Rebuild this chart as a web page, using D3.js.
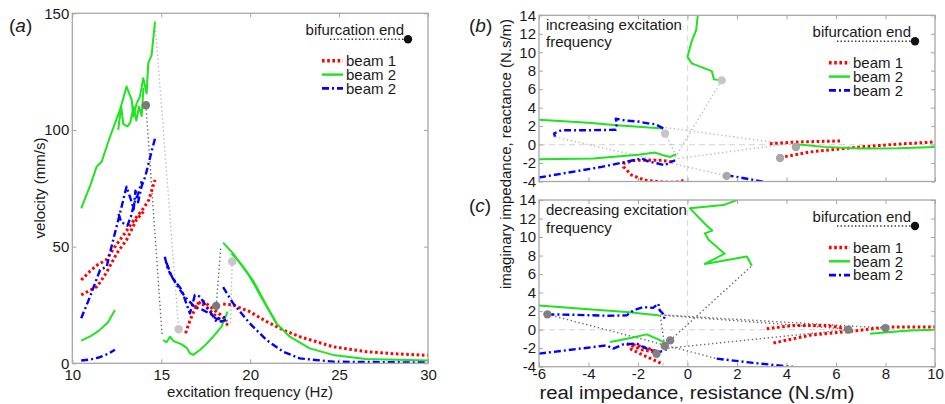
<!DOCTYPE html>
<html>
<head>
<meta charset="utf-8">
<script src="https://cdnjs.cloudflare.com/ajax/libs/d3/7.8.5/d3.min.js"></script>
<style>
body { margin: 0; background: #fff; }
svg text { font-family: "Liberation Sans", Arial, sans-serif; fill: #1a1a1a; }
</style>
</head>
<body>
<svg id="fig" width="945" height="404"></svg>
<script>
// ---- tick labels ----
const freqTicks = [10, 15, 20, 25, 30];
const velTicks = [0, 50, 100, 150];
const resTicks = [-6, -4, -2, 0, 2, 4, 6, 8, 10];
const reacTicks = [-4, -2, 0, 2, 4, 6, 8, 10, 12, 14];
const legendNames = ["beam 1", "beam 2", "beam 2"];

// ---- panel (a): [frequency Hz, velocity mm/s] ----
const aRedUp1 = [[10.5,35.7],[11.0,39.5],[11.4,42.1],[11.9,44.3],[12.4,50],[12.95,55.7],[13.4,60.7],[14.0,66.4],[14.3,70],[14.65,78.6]];
const aRedUp2 = [[10.5,29.3],[11.4,32.9],[11.9,38.6],[12.5,47.1],[13.05,52.9],[13.6,61.4],[14.0,65]];
const aRedMid1 = [[16.37,12.9],[16.55,17],[16.71,20],[16.9,23.5],[17.08,25.7],[17.4,25],[17.7,23],[18.1,20],[18.4,18],[18.76,16.4]];
const aRedMid2 = [[16.9,24],[17.3,27],[17.8,24],[18.3,21],[18.7,18]];
const aRedTail = [[18.48,25.4],[19.04,25],[19.98,22.1],[20.92,17.9],[21.85,14.3],[22.79,11.4],[24.66,7.1],[26.5,5],[28.3,4],[30,3.4]];

const aGreenUp1 = [[10.5,66.4],[11.0,76],[11.37,84.3],[11.65,86.4],[12.12,97.1],[12.68,108.6],[13.05,118.6],[13.34,112.9],[13.43,105.7],[13.62,111.4],[13.8,114.3],[13.99,122.2],[14.18,115.7],[14.27,128.6],[14.46,132.1],[14.65,146.4]];
const aGreenUp2 = [[12.58,100],[12.75,110],[12.87,102.5],[13.1,101.5],[13.25,103],[13.45,110],[13.6,104],[13.75,110],[13.9,106],[14.0,118]];
const aGreenLow = [[10.5,9.7],[11.0,11.5],[11.5,14],[12.0,17.5],[12.4,22.8]];
const aGreenMid = [[15.11,10],[15.3,9],[15.49,11.4],[15.7,9.5],[16.15,8.1],[16.45,6.5],[16.61,4.3],[16.8,3.6],[17.17,5.7],[17.5,8],[17.92,11.4],[18.39,15.7],[18.73,22.1]];
const aGreenTail1 = [[18.48,51.7],[19.04,47.1],[19.98,37.1],[20.92,24.3],[21.48,17.1],[22.23,11.4],[23.35,6.4],[24.66,3.6],[26.5,1.8],[30,1.2]];
const aGreenTail2 = [[18.95,47],[19.5,42.5],[20.2,35],[20.92,24.8],[21.5,17]];

const aBlueUp1 = [[10.5,19.3],[11.0,28.6],[11.56,40],[11.93,41.4],[12.3,52.9],[12.68,64.3],[13.05,75.7],[13.3,70],[13.45,66],[13.55,74],[13.7,69],[13.9,76],[14.1,80],[14.3,86],[14.65,96.4]];
const aBlueUp2 = [[12.6,64],[12.75,60.5],[13.1,59],[13.3,63],[13.5,69],[13.7,72.5],[13.9,78]];
const aBlueLow = [[10.5,1.2],[11.0,1.6],[11.5,2.5],[12.0,4],[12.4,5.8]];
const aBlueMid1 = [[15.2,45.7],[15.35,41],[15.49,38.6],[15.7,36],[15.87,34.3],[16.0,33],[16.15,31.4],[16.35,27],[16.61,21.4],[16.75,25],[16.89,29.3],[17.17,28.6],[17.4,26],[17.55,24.3],[17.8,21.5],[18.11,17.9],[18.4,18],[18.67,18.6]];
const aBlueMid2 = [[15.3,43],[15.6,37],[16.0,32],[16.4,28],[16.9,24],[17.3,23],[17.8,21],[18.1,19],[18.5,19.5],[18.75,20.5]];
const aBlueTail = [[18.48,32.6],[19.04,25.7],[19.98,17.1],[20.92,10],[21.85,5],[22.79,2.1],[24.66,0.7],[30,0.3]];

const aJumpsDark = [[[14.14,110.6],[15.05,12]], [[18.09,24.6],[18.35,50]]];
const aJumpsLight = [[[14.65,146],[15.98,14.6]], [[18.99,43.6],[18.9,17]]];
const aDotsDark = [[14.14,110.6],[18.09,24.6]];
const aDotsLight = [[15.98,14.6],[18.99,43.6]];

// ---- panel (b): [resistance, reactance], increasing frequency ----
const bGreen1 = [[0.45,14.8],[0.35,12.4],[0.17,11.2],[0.0,9.5],[0.17,8.8],[0.98,7.96],[1.07,7.06],[1.38,6.95]];
const bGreen2 = [[-6,2.7],[-4,2.35],[-2.86,2.09],[-0.98,1.73]];
const bGreen3 = [[-6,-1.6],[-3.8,-1.51],[-2,-1.1],[-1.31,-0.87],[-0.98,-1.16],[-0.7,-1.34],[-0.46,-1.05]];
const bGreen4 = [[4.41,0.03],[5.5,-0.25],[6.97,-0.43],[8.5,-0.4],[10,-0.26]];
const bBlue1 = [[-0.98,1.75],[-1.3,2.2],[-1.6,2.3],[-2.0,2.5],[-2.5,2.6],[-2.9,2.8],[-2.85,2.3],[-2.9,1.6],[-4.0,1.55],[-5.1,1.55],[-5.39,1.19],[-5.35,0.85]];
const bBlue2 = [[-6,-3.57],[-3.47,-2.42],[-1.85,-1.51],[-1.57,-1.84],[-1.2,-2.05],[-0.91,-2.24],[-0.7,-1.9],[-0.5,-1.7]];
const bBlue3 = [[1.58,-3.32],[2.5,-3.75],[3.6,-4.3]];
const bRed1 = [[-0.64,-1.88],[-1.04,-1.7],[-2.12,-1.7],[-2.59,-2.05],[-2.59,-2.4],[-2.25,-3.32],[-1.72,-3.86],[-1.0,-4.05],[-0.5,-4.1],[-0.1,-3.86]];
const bRed2 = [[3.33,0.1],[4.41,0.28],[5.5,0.35],[6.23,0.39]];
const bRed3 = [[3.74,-1.41],[4.95,-0.8],[6.97,-0.26],[8.5,0.05],[10,0.28]];
const bJumps = [[[-1.04,1.9],[4.4,-0.1]], [[-0.37,-1.51],[4.0,0.05]], [[-5.35,0.82],[1.58,-3.39]], [[-0.91,1.25],[-0.5,-0.97]], [[-0.5,-1.4],[1.38,6.95]]];
const bDotsLight = [[-0.91,1.19],[1.38,6.95]];
const bDotsMid = [[4.38,-0.26],[1.58,-3.39],[3.74,-1.45]];

// ---- panel (c): [resistance, reactance], decreasing frequency ----
const cGreen1 = [[2.1,14.4],[2.0,14.0],[1.45,13.45],[0.1,13.1],[0.75,11.3],[1.0,10.7],[0.7,10.4],[0.85,9.7],[1.5,8.2],[0.7,7.1],[2.4,7.9],[2.6,6.9]];
const cGreen2 = [[-6,2.62],[-4,2.2],[-2.46,1.9],[-1.12,1.54]];
const cGreen3 = [[-3.13,-1.34],[-2.3,-0.9],[-1.65,-0.51],[-1.25,-0.97],[-0.84,-1.51]];
const cGreen4 = [[7.37,-0.43],[8.2,-0.25],[9,-0.1],[10,0]];
const cBlue1 = [[-5.66,1.65],[-4.5,1.6],[-3.2,1.5],[-2.46,1.54],[-2.19,2.08],[-1.79,2.44],[-1.39,2.35],[-1.18,2.81],[-1.12,2.08],[-0.92,1.54],[-0.95,1.18]];
const cBlue2 = [[-6,-2.59],[-4.5,-2.1],[-3.27,-1.7],[-3.0,-2.05],[-2.6,-1.6],[-2.05,-1.51],[-1.65,-2.05],[-1.12,-2.41],[-0.78,-2.05]];
const cBlue3 = [[1.18,-3.13],[2.7,-3.6],[4.28,-4.03]];
const cRed1 = [[-2.46,-1.51],[-2.1,-1.9],[-1.8,-2.2],[-1.38,-2.41],[-1.2,-2.6]];
const cRed2 = [[-2.32,-2.05],[-1.92,-2.59],[-1.5,-3.1],[-0.98,-3.75]];
const cRed3 = [[-2.2,-1.6],[-1.9,-1.8],[-1.6,-2.0],[-1.3,-2.3]];
const cRed4 = [[3.2,0.1],[4.28,0.46],[5.62,0.46],[6.5,0.1]];
const cRed5 = [[3.47,-1.44],[4.93,-0.61],[6.95,-0.07],[8.05,0.29],[10,0.29]];
const cJumps = [[[-5.66,1.65],[1.18,-3.13]], [[-0.7,-1.16],[2.6,6.9]], [[-0.9,1.54],[6.5,0.05]], [[-1.1,1.6],[8.0,0.17]], [[-0.78,-2.0],[6.5,0.0]], [[-1.1,1.5],[-0.92,-1.77]]];
const cDots = [[-5.66,1.65],[-0.7,-1.16],[-0.92,-1.77],[-1.25,-2.6],[6.5,0.0],[8.0,0.17]];

// ---- styles ----
const RED = { stroke: "#ff0000", width: 3, dash: "2.6,2.6" };
const GREEN = { stroke: "#1ee41e", width: 2, dash: null };
const BLUE = { stroke: "#0000ff", width: 2.4, dash: "7,3,2,3" };
const DARKDOT = { stroke: "#6a6a6a", width: 1.4, dash: "1.4,2.6" };
const LIGHTDOT = { stroke: "#bdbdbd", width: 1.4, dash: "1.4,2.6" };
const BOX = "#a6a6a6";

const svg = d3.select("#fig");
let clipN = 0;

function makePanel(box, xDom, yDom, xTicks, yTicks, showX, zeroLines) {
    const x = d3.scaleLinear().domain(xDom).range([box.l, box.r]);
    const y = d3.scaleLinear().domain(yDom).range([box.b, box.t]);
    const id = "clip" + (clipN++);
    svg.append("clipPath").attr("id", id).append("rect")
        .attr("x", box.l).attr("y", box.t).attr("width", box.r - box.l).attr("height", box.b - box.t);

    if (zeroLines) {
        svg.append("line").attr("x1", x(0)).attr("x2", x(0)).attr("y1", box.t).attr("y2", box.b)
            .attr("stroke", "#dcdcdc").attr("stroke-width", 1.2).attr("stroke-dasharray", "6,4");
        svg.append("line").attr("x1", box.l).attr("x2", box.r).attr("y1", y(0)).attr("y2", y(0))
            .attr("stroke", "#dcdcdc").attr("stroke-width", 1.2).attr("stroke-dasharray", "6,4");
    }

    const g = svg.append("g").attr("clip-path", `url(#${id})`);

    // ticks inside on all four sides, matlab style
    const fs = "15px";
    const bottom = svg.append("g").attr("transform", `translate(0,${box.b})`)
        .call(d3.axisBottom(x).tickValues(xTicks).tickSize(-4).tickPadding(showX ? showX : 4)
            .tickFormat(showX ? d3.format("d") : ""));
    const top = svg.append("g").attr("transform", `translate(0,${box.t})`)
        .call(d3.axisTop(x).tickValues(xTicks).tickSize(-4).tickFormat(""));
    const left = svg.append("g").attr("transform", `translate(${box.l},0)`)
        .call(d3.axisLeft(y).tickValues(yTicks).tickSize(-4).tickPadding(3).tickFormat(d3.format("d")));
    const right = svg.append("g").attr("transform", `translate(${box.r},0)`)
        .call(d3.axisRight(y).tickValues(yTicks).tickSize(-4).tickFormat(""));
    [bottom, top, left, right].forEach(a => {
        a.select(".domain").remove();
        a.selectAll("line").attr("stroke", BOX);
        a.selectAll("text").style("font-size", fs).attr("fill", "#1a1a1a")
            .text(function() { return this.textContent.replace("−", "-"); });
    });
    svg.append("rect").attr("x", box.l).attr("y", box.t).attr("width", box.r - box.l).attr("height", box.b - box.t)
        .attr("fill", "none").attr("stroke", BOX).attr("stroke-width", 1.3);

    return { x, y, g, box };
}

function drawLine(p, data, st) {
    p.g.append("path").datum(data)
        .attr("d", d3.line().x(d => p.x(d[0])).y(d => p.y(d[1])))
        .attr("fill", "none").attr("stroke", st.stroke).attr("stroke-width", st.width)
        .attr("stroke-dasharray", st.dash).attr("stroke-linejoin", "round");
}

function drawDots(p, data, color) {
    p.g.selectAll(null).data(data).join("circle")
        .attr("cx", d => p.x(d[0])).attr("cy", d => p.y(d[1])).attr("r", 4.2)
        .attr("fill", color);
}

function legend(p) {
    const r = p.box.r, t = p.box.t;
    svg.append("text").attr("x", r - 24).attr("y", t + 22).attr("text-anchor", "end")
        .style("font-size", "15px").text("bifurcation end");
    svg.append("line").attr("x1", r - 98).attr("x2", r - 23).attr("y1", t + 26).attr("y2", t + 26)
        .attr("stroke", "#333").attr("stroke-width", 1.4).attr("stroke-dasharray", "1.4,2.2");
    svg.append("circle").attr("cx", r - 20).attr("cy", t + 26).attr("r", 4.2).attr("fill", "#111");
    const sts = [RED, GREEN, BLUE];
    legendNames.forEach((name, i) => {
        const yy = t + 47.5 + i * 13.8;
        svg.append("line").attr("x1", r - 106).attr("x2", r - 85).attr("y1", yy).attr("y2", yy)
            .attr("stroke", sts[i].stroke).attr("stroke-width", sts[i].width + 0.4).attr("stroke-dasharray", sts[i].dash);
        svg.append("text").attr("x", r - 82).attr("y", yy + 5.3).style("font-size", "15px").text(name);
    });
}

function panelTag(x, y, letter) {
    const t = svg.append("text").attr("x", x).attr("y", y).style("font-size", "19px");
    t.append("tspan").text("(");
    t.append("tspan").style("font-style", "italic").text(letter);
    t.append("tspan").text(")");
}

// ---------- panel (a) ----------
const pa = makePanel({ l: 72.3, r: 428, t: 13.3, b: 363.3 }, [10, 30], [0, 150], freqTicks, velTicks, 6, false);
aJumpsLight.forEach(d => drawLine(pa, d, LIGHTDOT));
aJumpsDark.forEach(d => drawLine(pa, d, DARKDOT));
[aRedUp1, aRedUp2, aRedMid1, aRedMid2, aRedTail].forEach(d => drawLine(pa, d, RED));
[aGreenUp1, aGreenUp2, aGreenLow, aGreenMid, aGreenTail1, aGreenTail2].forEach(d => drawLine(pa, d, GREEN));
[aBlueUp1, aBlueUp2, aBlueLow, aBlueMid1, aBlueMid2, aBlueTail].forEach(d => drawLine(pa, d, BLUE));
drawDots(pa, aDotsDark, "#7a7a7a");
drawDots(pa, aDotsLight, "#c6c6c6");
legend(pa);
panelTag(9, 32, "a");
svg.append("text").attr("x", 250).attr("y", 397).attr("text-anchor", "middle").style("font-size", "15px")
    .text("excitation frequency (Hz)");
svg.append("text").attr("transform", "translate(45,188) rotate(-90)").attr("text-anchor", "middle").style("font-size", "15px")
    .text("velocity (mm/s)");

// ---------- panel (b) ----------
const pb = makePanel({ l: 539, r: 935, t: 15.3, b: 181.5 }, [-6, 10], [-4, 14], resTicks, reacTicks, 0, true);
bJumps.forEach(d => drawLine(pb, d, LIGHTDOT));
[bRed1, bRed2, bRed3].forEach(d => drawLine(pb, d, RED));
[bGreen1, bGreen2, bGreen3, bGreen4].forEach(d => drawLine(pb, d, GREEN));
[bBlue1, bBlue2, bBlue3].forEach(d => drawLine(pb, d, BLUE));
drawDots(pb, bDotsLight, "#c6c6c6");
drawDots(pb, bDotsMid, "#a8a8a8");
legend(pb);
panelTag(469, 32, "b");
svg.append("text").attr("x", 546).attr("y", 30).style("font-size", "15px").text("increasing excitation");
svg.append("text").attr("x", 546).attr("y", 47).style("font-size", "15px").text("frequency");

// ---------- panel (c) ----------
const pc = makePanel({ l: 539, r: 935, t: 200, b: 366.7 }, [-6, 10], [-4, 14], resTicks, reacTicks, 2, true);
cJumps.forEach(d => drawLine(pc, d, DARKDOT));
[cRed1, cRed2, cRed3, cRed4, cRed5].forEach(d => drawLine(pc, d, RED));
[cGreen1, cGreen2, cGreen3, cGreen4].forEach(d => drawLine(pc, d, GREEN));
[cBlue1, cBlue2, cBlue3].forEach(d => drawLine(pc, d, BLUE));
drawDots(pc, cDots, "#808080");
legend(pc);
panelTag(469, 212, "c");
svg.append("text").attr("x", 546).attr("y", 215).style("font-size", "15px").text("decreasing excitation");
svg.append("text").attr("x", 546).attr("y", 233).style("font-size", "15px").text("frequency");

svg.append("text").attr("x", 697).attr("y", 398.5).attr("text-anchor", "middle").style("font-size", "18px")
    .attr("textLength", 315).attr("lengthAdjust", "spacingAndGlyphs")
    .text("real impedance, resistance (N.s/m)");
svg.append("text").attr("transform", "translate(511,154) rotate(-90)").attr("text-anchor", "middle").style("font-size", "15px")
    .text("imaginary impedance, reactance (N.s/m)");
</script>
</body>
</html>
